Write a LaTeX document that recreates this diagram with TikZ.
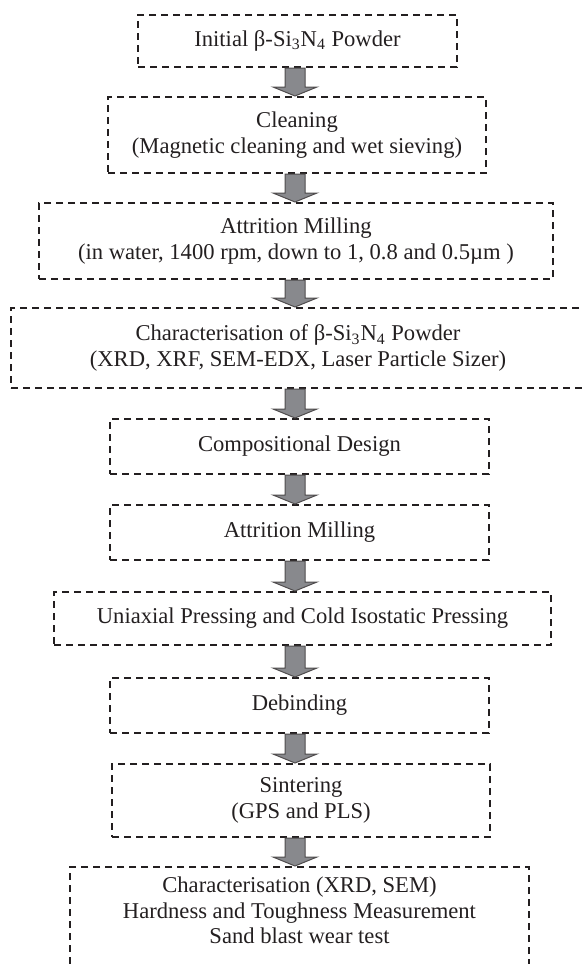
\documentclass[tikz,border=0pt]{standalone}
\usepackage{fontspec}
\setmainfont{Liberation Serif}
\usetikzlibrary{calc}
\definecolor{ink}{RGB}{35,31,32}
\definecolor{shaft}{RGB}{136,137,141}

\begin{document}
\begin{tikzpicture}[x=0.5pt, y=-0.5pt,
		stage/.style={draw=ink, line width=1pt, dash pattern=on 3.6pt off 2.4pt, inner sep=0pt, align=center, text=ink, font=\fontsize{11.3}{12.75}\selectfont},
		blockarrow/.style={fill=shaft, draw=ink!80, line width=0.5pt, line join=miter}]
	\useasboundingbox (0,0) rectangle (583,964);
	\coordinate (axis) at (295,0);
	\node[stage, minimum width=159.5pt, minimum height=26pt] (powder) at (297.5,41) {Initial β-Si\textsubscript{3}N\textsubscript{4} Powder};
	\node[stage, minimum width=189pt, minimum height=38pt] (cleaning) at (297,135) {Cleaning\\(Magnetic cleaning and wet sieving)};
	\node[stage, minimum width=257pt, minimum height=38pt] (milling) at (296,241) {Attrition Milling\\(in water, 1400 rpm, down to 1, 0.8 and 0.5µm )};
	\node[stage, minimum width=287pt, minimum height=40pt] (analysis) at (298,348) {Characterisation of β-Si\textsubscript{3}N\textsubscript{4} Powder\\(XRD, XRF, SEM-EDX, Laser Particle Sizer)};
	\node[stage, minimum width=189.5pt, minimum height=27.5pt] (design) at (299.5,446.5) {Compositional Design};
	\node[stage, minimum width=189.5pt, minimum height=27.5pt] (remilling) at (299.5,532.5) {Attrition Milling};
	\node[stage, minimum width=248.5pt, minimum height=26.5pt] (pressing) at (302.5,618.5) {Uniaxial Pressing and Cold Isostatic Pressing};
	\node[stage, minimum width=189.5pt, minimum height=27.5pt] (debinding) at (299.5,705.5) {Debinding};
	\node[stage, minimum width=189pt, minimum height=36.5pt] (sintering) at (301,800.5) {Sintering\\(GPS and PLS)};
	\node[stage, minimum width=229.5pt, minimum height=60pt] (testing) at (299.5,927) {Characterisation (XRD, SEM)\\Hardness and Toughness Measurement\\Sand blast wear test\\ \strut};
	% grey block arrows between the stages
	\foreach \a/\b in {powder/cleaning, cleaning/milling, milling/analysis, analysis/design, design/remilling, remilling/pressing, pressing/debinding, debinding/sintering, sintering/testing} {
		\draw[blockarrow] ($(axis |- \a.south)+(-10,0)$) -- ($(axis |- \b.north)+(-10,-9)$) -- ++(-12,0) -- (axis |- \b.north) -- ++(22,-9) -- ++(-12,0) -- ($(axis |- \a.south)+(10,0)$) -- cycle;
	}
\end{tikzpicture}
\end{document}
